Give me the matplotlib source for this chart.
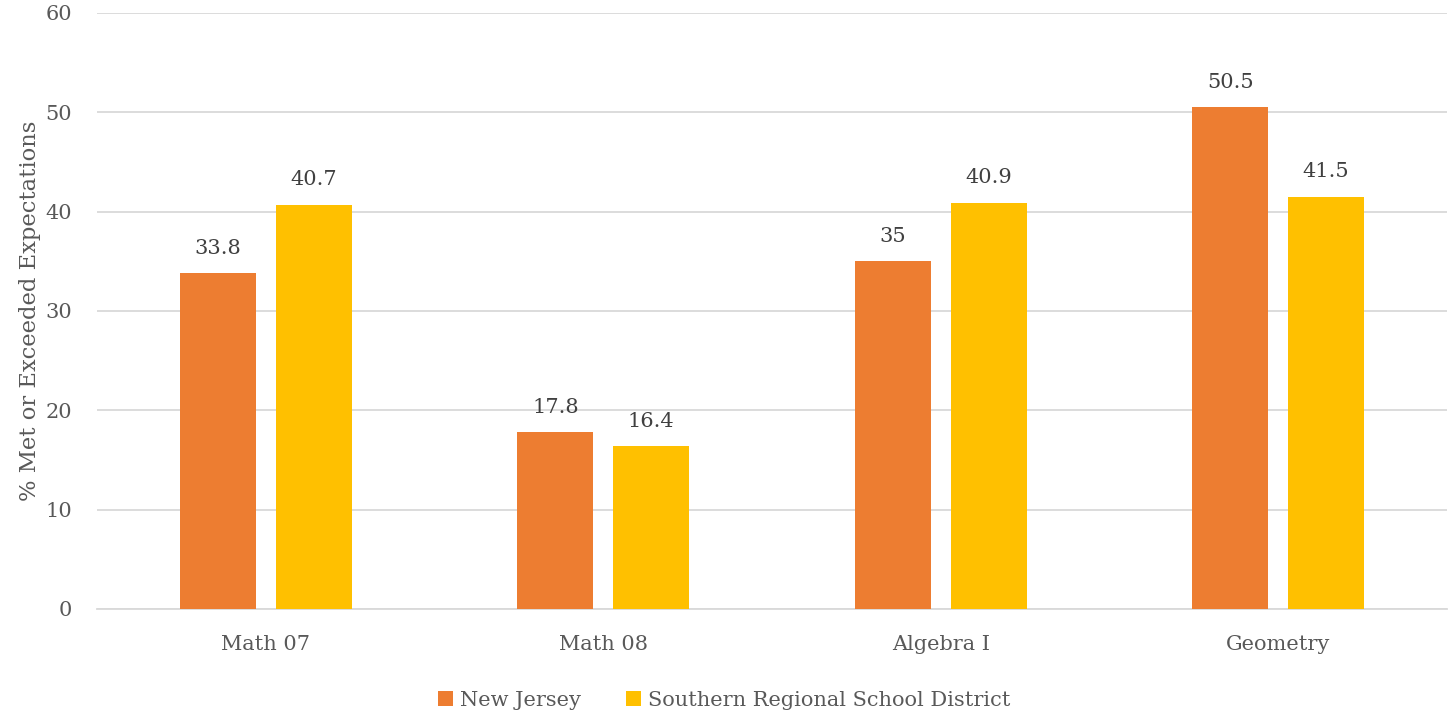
import matplotlib
matplotlib.use("Agg")
import matplotlib.pyplot as plt
import numpy as np

categories = ["Math 07", "Math 08", "Algebra I", "Geometry"]
new_jersey = [33.8, 17.8, 35, 50.5]
southern_regional = [40.7, 16.4, 40.9, 41.5]
series_names = ["New Jersey", "Southern Regional School District"]
y_ticks = [0, 10, 20, 30, 40, 50, 60]

plt.rcParams["font.family"] = ["DejaVu Serif"]

fig = plt.figure(figsize=(14.48, 7.21), dpi=100)
ax = fig.add_axes([97 / 1448, 112 / 721, 1350 / 1448, 596 / 721])

x = np.arange(len(categories))
w = 0.225
off = 0.142
b1 = ax.bar(x - off, new_jersey, w, color="#ED7D31", label=series_names[0], zorder=3)
b2 = ax.bar(x + off, southern_regional, w, color="#FFC000", label=series_names[1], zorder=3)

for bars, vals in ((b1, new_jersey), (b2, southern_regional)):
    for rect, v in zip(bars, vals):
        ax.annotate(f"{v:g}", (rect.get_x() + rect.get_width() / 2, v),
                    xytext=(0, 11), textcoords="offset points",
                    ha="center", va="bottom", fontsize=15, color="#404040")

ax.set_xlim(-0.5, len(categories) - 0.5)
ax.set_ylim(0, 60)
ax.set_yticks(y_ticks)
ax.set_xticks(x)
ax.set_xticklabels(categories)
ax.tick_params(axis="both", length=0, labelsize=15, labelcolor="#595959")
ax.tick_params(axis="x", pad=19)
ax.tick_params(axis="y", pad=18)
ax.yaxis.grid(True, color="#D9D9D9", linewidth=1.3, zorder=0)
for s in ("top", "right", "left"):
    ax.spines[s].set_visible(False)
ax.spines["bottom"].set_color("#D9D9D9")
ax.spines["bottom"].set_linewidth(1.3)
ax.set_ylabel("% Met or Exceeded Expectations", fontsize=16.3, color="#595959", labelpad=3)

fig.legend(handles=[b1, b2], labels=series_names, loc="center",
           bbox_to_anchor=(0.5, 1 - 700 / 721), ncol=2, frameon=False,
           fontsize=15, labelcolor="#595959", handlelength=0.72, handleheight=0.72,
           handletextpad=0.35, columnspacing=2.15)

fig.savefig("out.png", dpi=100)
